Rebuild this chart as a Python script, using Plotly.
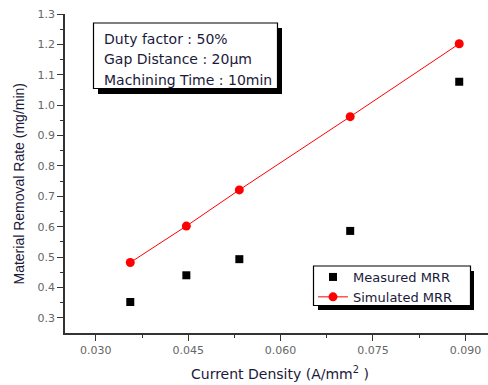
import plotly.graph_objects as go

current_density = [0.0356, 0.0447, 0.0533, 0.0713, 0.0890]
measured_mrr = [0.352, 0.440, 0.493, 0.586, 1.077]
simulated_mrr = [0.482, 0.602, 0.721, 0.962, 1.202]
info_lines = ["Duty factor : 50%", "Gap Distance : 20μm", "Machining Time : 10min"]

FONT = "Liberation Sans, Arial, sans-serif"
WIDE = "DejaVu Sans, sans-serif"

L, R, T, B = 65, 0, 14, 52
W, H = 488, 385
PW, PH = W - L - R, H - T - B


def px_x(px):
    return (px - L) / PW


def px_y(py):
    return (H - B - py) / PH


fig = go.Figure()
fig.add_trace(go.Scatter(x=current_density, y=measured_mrr, mode="markers",
                         name="Measured MRR",
                         marker=dict(symbol="square", size=8, color="black")))
fig.add_trace(go.Scatter(x=current_density, y=simulated_mrr, mode="lines+markers",
                         name="Simulated MRR",
                         line=dict(color="red", width=1),
                         marker=dict(symbol="circle", size=9, color="red")))

axis_common = dict(showline=True, linecolor="#333", linewidth=1.5, ticks="outside",
                   ticklen=6, tickcolor="#333", showgrid=False, zeroline=False,
                   tickfont=dict(family=WIDE, size=11, color="#666"))

fig.update_layout(
    width=W, height=H,
    margin=dict(l=L, r=R, t=T, b=B),
    paper_bgcolor="white", plot_bgcolor="white",
    xaxis=dict(range=[0.025, 0.09367], tickvals=[0.030, 0.045, 0.060, 0.075, 0.090],
               ticktext=["0.030", "0.045", "0.060", "0.075", "0.090"],
               minor=dict(tickvals=[0.0375, 0.0525, 0.0675, 0.0825], ticks="outside",
                          ticklen=3, tickcolor="#333"),
               **axis_common),
    yaxis=dict(range=[0.25, 1.3], tickvals=[0.3, 0.4, 0.5, 0.6, 0.7, 0.8, 0.9, 1.0, 1.1, 1.2, 1.3],
               ticktext=["0.3", "0.4", "0.5", "0.6", "0.7", "0.8", "0.9", "1.0", "1.1", "1.2", "1.3"],
               minor=dict(tickvals=[0.35, 0.45, 0.55, 0.65, 0.75, 0.85, 0.95, 1.05, 1.15, 1.25],
                          ticks="outside", ticklen=3, tickcolor="#333"),
               **axis_common),
    showlegend=True,
    legend=dict(x=px_x(313), y=px_y(262), xanchor="left", yanchor="top",
                bgcolor="rgba(0,0,0,0)", borderwidth=0,
                font=dict(family=WIDE, size=13, color="#1a1a3a"),
                tracegroupgap=0, itemwidth=30),
)

# info box: shadow + white box
fig.add_shape(type="rect", xref="paper", yref="paper",
              x0=px_x(98), x1=px_x(282), y0=px_y(94), y1=px_y(28),
              fillcolor="black", line=dict(width=0), layer="above")
fig.add_shape(type="rect", xref="paper", yref="paper",
              x0=px_x(93.5), x1=px_x(277.5), y0=px_y(88.5), y1=px_y(23),
              fillcolor="white", line=dict(width=1.2, color="black"), layer="above")
# legend box: shadow + white box
fig.add_shape(type="rect", xref="paper", yref="paper",
              x0=px_x(318), x1=px_x(474), y0=px_y(310), y1=px_y(271),
              fillcolor="black", line=dict(width=0), layer="above")
fig.add_shape(type="rect", xref="paper", yref="paper",
              x0=px_x(313.5), x1=px_x(470.5), y0=px_y(305.5), y1=px_y(266),
              fillcolor="white", line=dict(width=1.2, color="black"), layer="above")

for i, line in enumerate(info_lines):
    fig.add_annotation(xref="paper", yref="paper", x=px_x(102), y=px_y(38.5 + 20.5 * i),
                       xanchor="left", yanchor="middle", showarrow=False, text=line,
                       font=dict(family=WIDE, size=14, color="#1a1a3a"))

fig.add_annotation(xref="paper", yref="paper", x=px_x(280), y=px_y(373),
                   xanchor="center", yanchor="middle", showarrow=False,
                   text="Current Density (A/mm<sup>2</sup> )",
                   font=dict(family=WIDE, size=14, color="#1a1a3a"))
fig.add_annotation(xref="paper", yref="paper", x=px_x(19), y=px_y(183.5),
                   xanchor="center", yanchor="middle", showarrow=False, textangle=-90,
                   text="Material Removal Rate (mg/min)",
                   font=dict(family=FONT, size=14, color="#1a1a3a"))

fig.write_html("out.html")
